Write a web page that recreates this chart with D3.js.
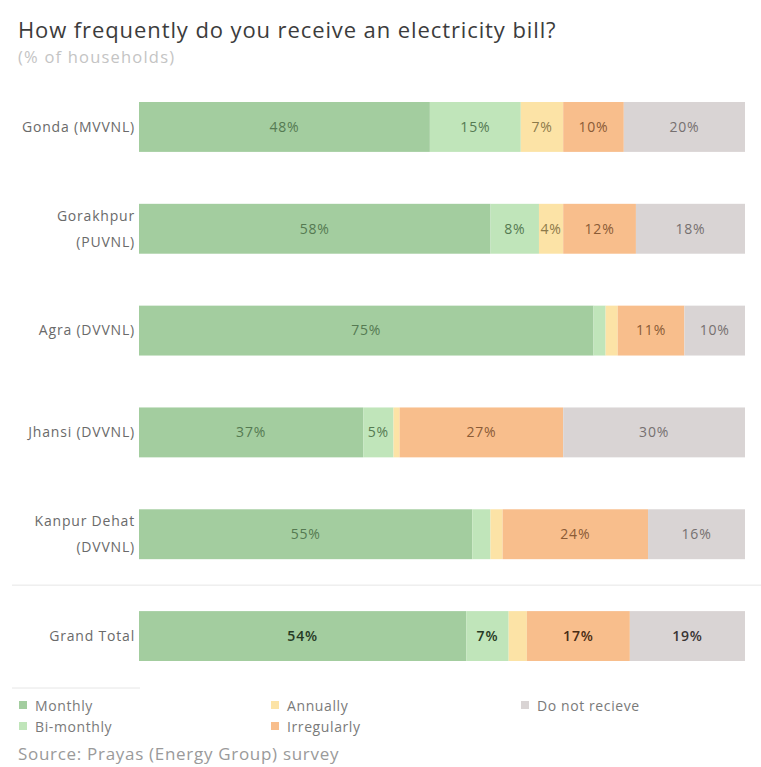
<!DOCTYPE html>
<html>
<head>
<meta charset="utf-8">
<script src="https://cdn.jsdelivr.net/npm/d3@7/dist/d3.min.js"></script>
<style>
  html, body { margin: 0; padding: 0; background: #fff; }
  svg { display: block; font-family: "Open Sans", "Noto Sans", sans-serif; }
</style>
</head>
<body>
<svg id="chart" width="761" height="767"></svg>
<script>
const categories = ["Gonda (MVVNL)", "Gorakhpur (PUVNL)", "Agra (DVVNL)", "Jhansi  (DVVNL)", "Kanpur Dehat (DVVNL)", "Grand Total"];
const categoryLines = [["Gonda (MVVNL)"], ["Gorakhpur", "(PUVNL)"], ["Agra (DVVNL)"], ["Jhansi  (DVVNL)"], ["Kanpur Dehat", "(DVVNL)"], ["Grand Total"]];
const seriesNames = ["Monthly", "Bi-monthly", "Annually", "Irregularly", "Do not recieve"];
const monthly     = [48, 58, 75, 37, 55, 54];
const biMonthly   = [15,  8,  2,  5,  3,  7];
const annually    = [ 7,  4,  2,  1,  2,  3];
const irregularly = [10, 12, 11, 27, 24, 17];
const doNotRecv   = [20, 18, 10, 30, 16, 19];
const title = "How frequently do you receive an electricity bill?";
const subtitle = "(% of households)";
const source = "Source: Prayas (Energy Group) survey";

const colors = ["#a3cd9f", "#c0e5ba", "#fce3a6", "#f8be8c", "#d9d4d4"];
const textColors = ["#557a52", "#557a52", "#8c7a4a", "#8a5b36", "#767070"];
const totalTextColors = ["#263a24", "#263a24", "#4a3d1c", "#4a2c14", "#3a3535"];

const seriesVals = [monthly, biMonthly, annually, irregularly, doNotRecv];
const rows = categories.map((c, i) => {
  const r = { cat: c };
  seriesNames.forEach((s, j) => r[s] = seriesVals[j][i]);
  return r;
});
const stacked = d3.stack().keys(seriesNames)(rows);

const svg = d3.select("#chart");
const x = d3.scaleLinear().domain([0, 100]).range([139, 745]);
const y = d3.scaleBand().domain(categories).range([102, 661]).paddingInner(0.51).paddingOuter(0);

// Title
svg.append("text").attr("x", 18).attr("y", 38).attr("fill", "#3c3c3c")
  .style("font-size", "22px").style("letter-spacing", "0.9px").text(title);
svg.append("text").attr("x", 18).attr("y", 63).attr("fill", "#c4c4c4")
  .style("font-size", "16.5px").style("letter-spacing", "1.2px").text(subtitle);

// Separator line before Grand Total
const sepY = (y(categories[4]) + y.bandwidth() + y(categories[5])) / 2;
svg.append("line").attr("x1", 12).attr("x2", 761).attr("y1", sepY).attr("y2", sepY)
  .attr("stroke", "#e6e6e6").attr("stroke-width", 1);

// Bars
const g = svg.append("g");
stacked.forEach((layer, j) => {
  g.selectAll(null).data(layer).enter().append("rect")
    .attr("x", d => x(d[0]))
    .attr("y", d => y(d.data.cat))
    .attr("width", d => x(d[1]) - x(d[0]))
    .attr("height", y.bandwidth())
    .attr("fill", colors[j]);
  g.selectAll(null).data(layer.filter(d => d[1] - d[0] >= 4)).enter().append("text")
    .attr("x", d => (x(d[0]) + x(d[1])) / 2)
    .attr("y", d => y(d.data.cat) + y.bandwidth() / 2)
    .attr("dy", "0.35em")
    .attr("text-anchor", "middle")
    .attr("fill", d => d.data.cat === "Grand Total" ? totalTextColors[j] : textColors[j])
    .style("font-size", "14px")
    .style("letter-spacing", "0.8px")
    .style("font-weight", d => d.data.cat === "Grand Total" ? "600" : "400")
    .text(d => (d[1] - d[0]) + "%");
});

// Category labels
categories.forEach((c, i) => {
  const lines = categoryLines[i];
  const cy = y(c) + y.bandwidth() / 2;
  const lh = 26;
  lines.forEach((ln, k) => {
    svg.append("text")
      .attr("x", 135)
      .attr("y", cy + (k - (lines.length - 1) / 2) * lh)
      .attr("dy", "0.35em")
      .attr("text-anchor", "end")
      .attr("fill", "#6a6a6a")
      .style("font-size", "14px")
      .style("letter-spacing", "0.8px")
      .text(ln);
  });
});

// Legend
svg.append("line").attr("x1", 12).attr("x2", 140).attr("y1", 688).attr("y2", 688)
  .attr("stroke", "#e6e6e6");
const legendPos = [[19, 706], [19, 727], [271, 706], [271, 727], [521, 706]];
seriesNames.forEach((s, j) => {
  const [lx, ly] = legendPos[j];
  svg.append("rect").attr("x", lx).attr("y", ly - 5).attr("width", 8).attr("height", 8)
    .attr("fill", colors[j]);
  svg.append("text").attr("x", lx + 16).attr("y", ly).attr("dy", "0.35em")
    .attr("fill", "#7a7a7a").style("font-size", "14px").style("letter-spacing", "0.6px").text(s);
});

svg.append("text").attr("x", 18).attr("y", 760).attr("fill", "#9a9a9a")
  .style("font-size", "17px").style("letter-spacing", "0.7px").text(source);
</script>
</body>
</html>
